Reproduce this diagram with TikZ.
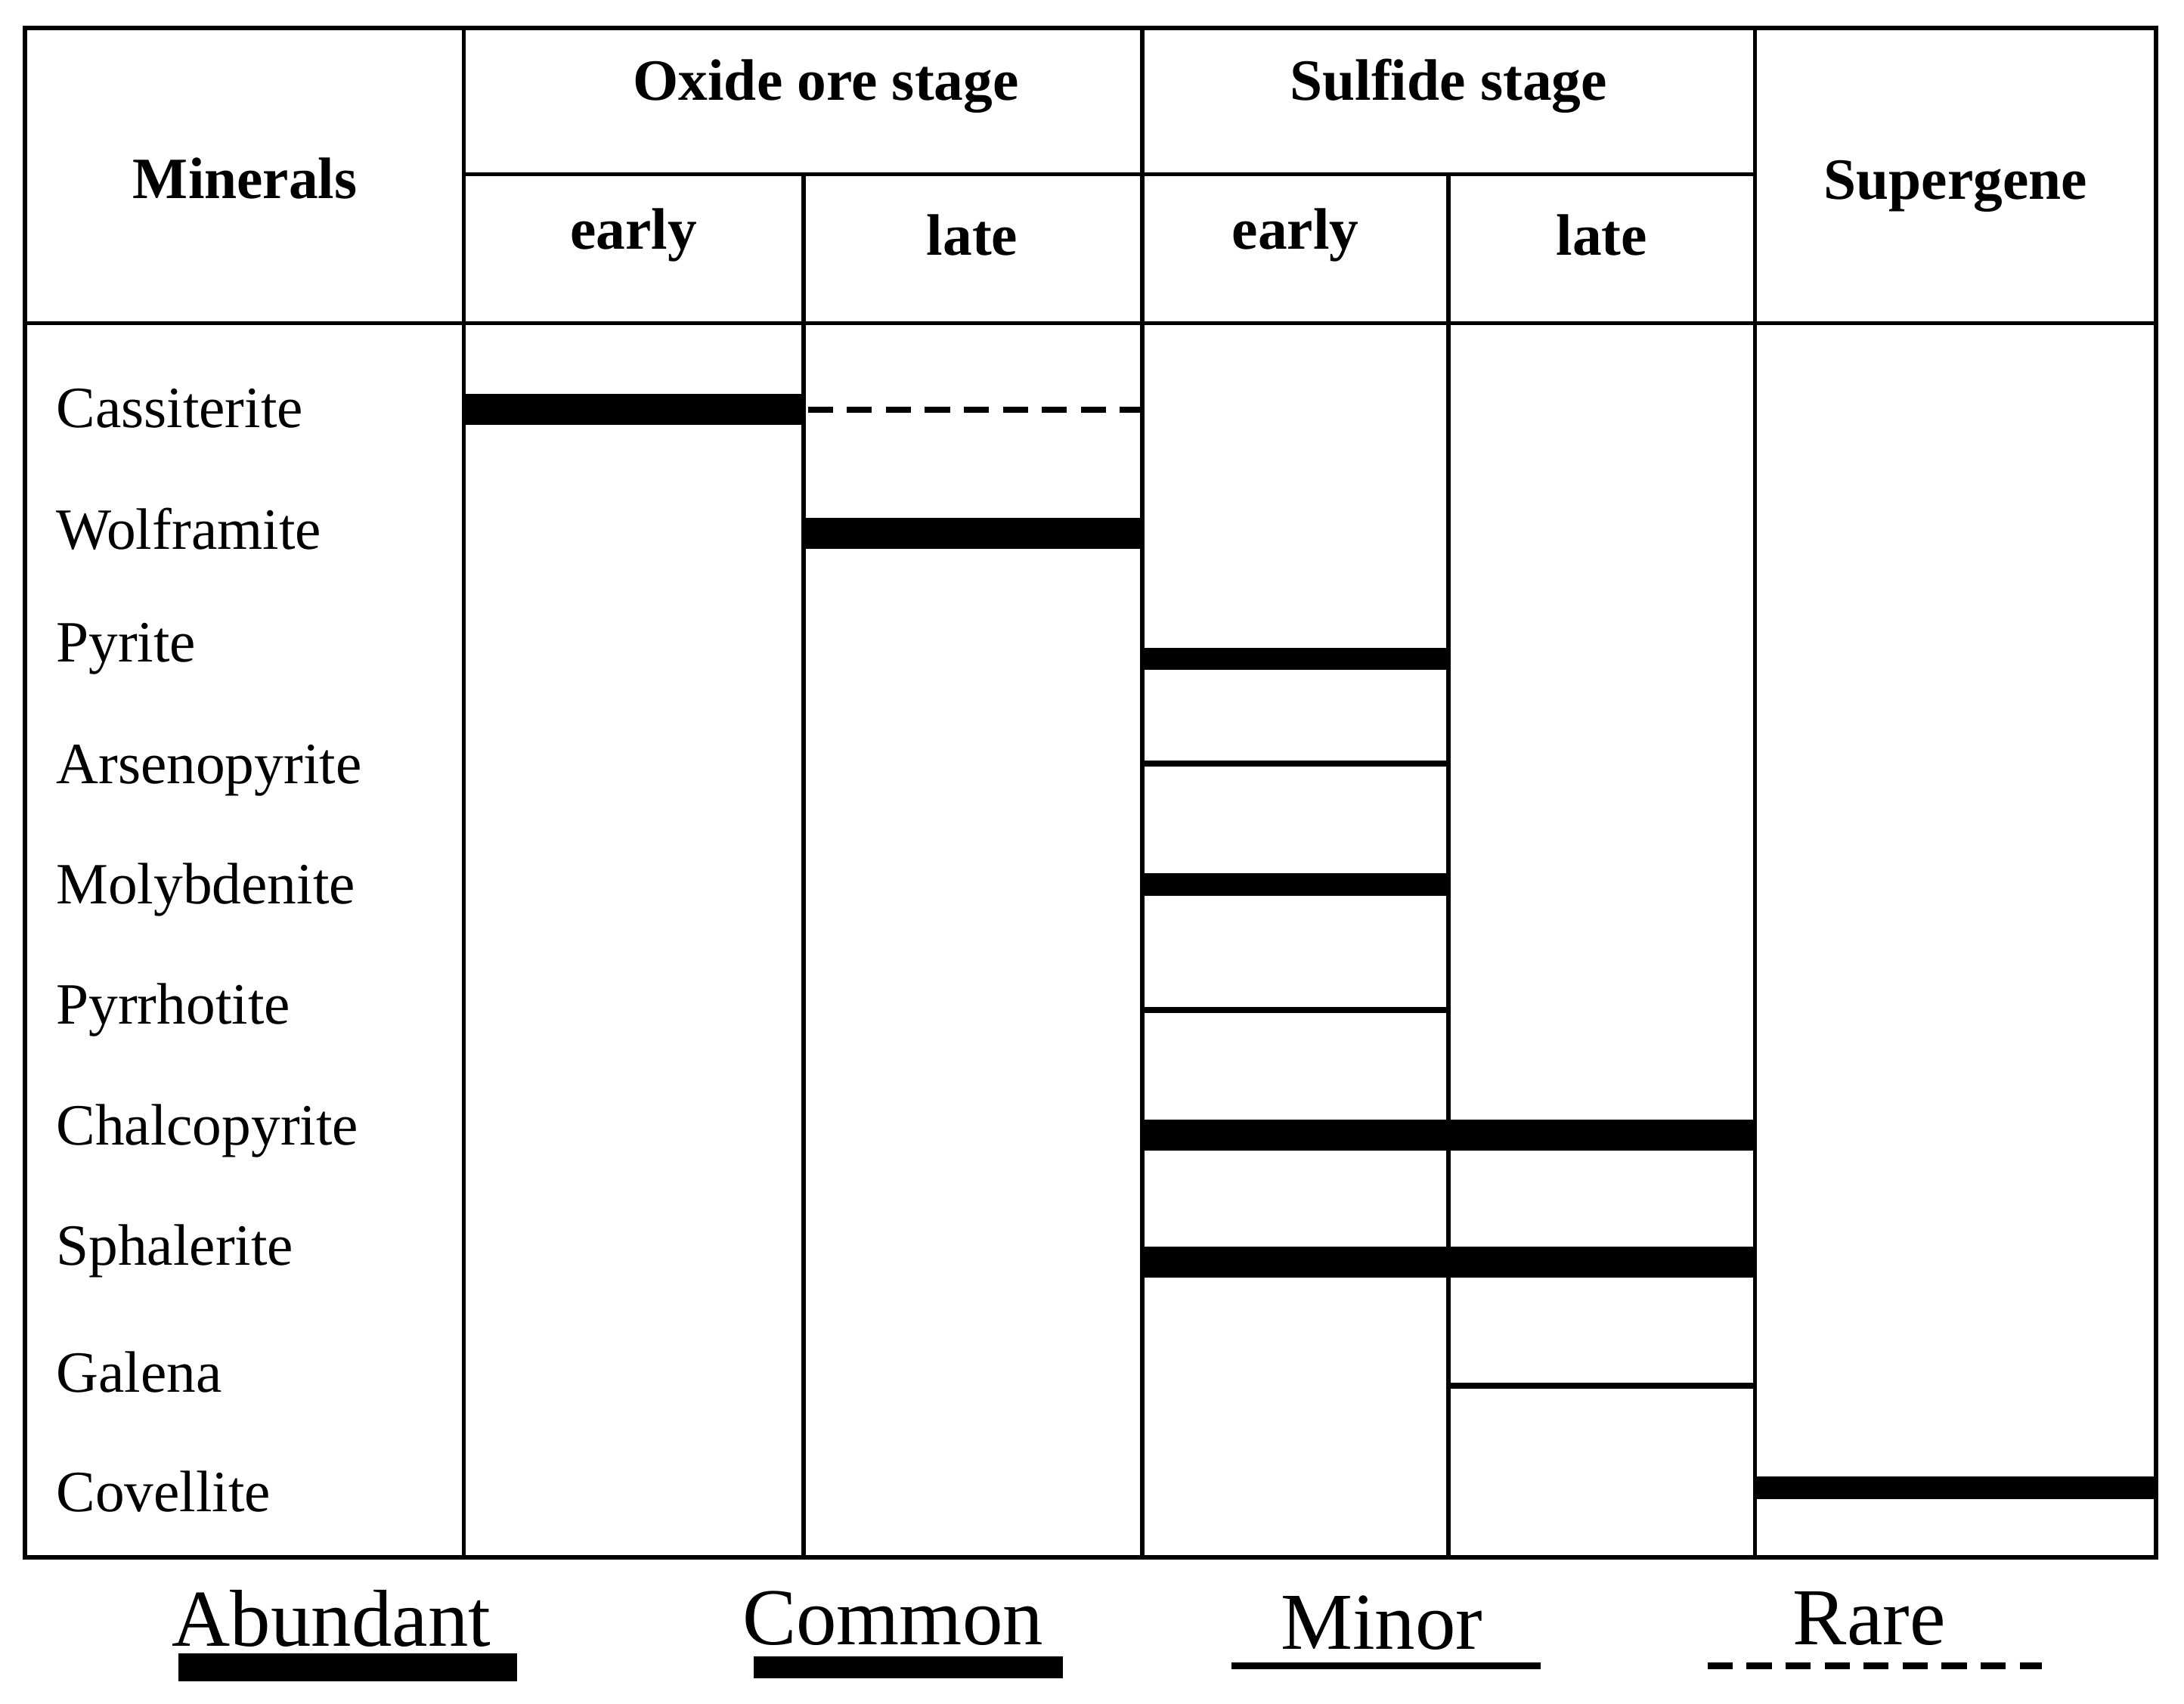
\documentclass[tikz,border=0pt]{standalone}
\usepackage{fontspec}
\setmainfont{Liberation Serif}
\begin{document}
\begin{tikzpicture}[x=0.5pt,y=-0.5pt,
  grid/.style={line width=1.5pt},
  abund/.style={line width=11pt},
  comm/.style={line width=8pt},
  minr/.style={line width=2.2pt},
  rare/.style={line width=2.2pt,dash pattern=on 9pt off 5pt},
  lab/.style={anchor=west,font=\fontsize{21}{24}\selectfont,inner sep=0},
  hd/.style={font=\bfseries\fontsize{21}{24}\selectfont,inner sep=0},
  leg/.style={font=\fontsize{29}{32}\selectfont,inner sep=0}]
\useasboundingbox (0,0) rectangle (1568,1223);
% grid
\draw[grid] (18,20) rectangle (1548,1118);
\draw[grid] (18,232) -- (1548,232);
\draw[grid] (333,125) -- (1260,125);
\foreach \x in {333,820,1260} \draw[grid] (\x,20) -- (\x,1118);
\foreach \x in {577,1040} \draw[grid] (\x,125) -- (\x,1118);
% headers
\node[hd] (hmin) at (176,128) {Minerals};
\node[hd] (hox) at (593,62) {Oxide ore stage};
\node[hd] (hsu) at (1040,62) {Sulfide stage};
\node[hd] (hsg) at (1404,134) {Supergene};
\node[hd] (e1) at (455,169) {early};
\node[hd] (l1) at (698,169) {late};
\node[hd] (e2) at (930,169) {early};
\node[hd] (l2) at (1150,169) {late};
% labels
\node[lab] (m1) at (40,293) {Cassiterite};
\node[lab] (m2) at (40,380) {Wolframite};
\node[lab] (m3) at (40,466) {Pyrite};
\node[lab] (m4) at (40,553) {Arsenopyrite};
\node[lab] (m5) at (40,639) {Molybdenite};
\node[lab] (m6) at (40,725) {Pyrrhotite};
\node[lab] (m7) at (40,812) {Chalcopyrite};
\node[lab] (m8) at (40,898) {Sphalerite};
\node[lab] (m9) at (40,985) {Galena};
\node[lab] (m10) at (40,1071) {Covellite};
% bars
\draw[abund] (333,294) -- (577,294);
\draw[rare] (580,294) -- (820,294);
\draw[abund] (577,383) -- (820,383);
\draw[comm] (820,473) -- (1040,473);
\draw[minr] (820,548) -- (1040,548);
\draw[comm] (820,635) -- (1040,635);
\draw[minr] (820,725) -- (1040,725);
\draw[abund] (820,815) -- (1260,815);
\draw[abund] (820,906) -- (1260,906);
\draw[minr] (1040,995) -- (1260,995);
\draw[comm] (1260,1068) -- (1548,1068);
% legend
\node[leg] (la) at (238,1162) {Abundant};
\node[leg] (lc) at (641,1162) {Common};
\node[leg] (lm) at (992,1165) {Minor};
\node[leg] (lr) at (1342,1162) {Rare};
\draw[line width=10pt] (128,1197) -- (371,1197);
\draw[comm] (541,1197) -- (763,1197);
\draw[line width=2.6pt] (884,1196) -- (1106,1196);
\draw[line width=2.6pt,dash pattern=on 9pt off 5pt] (1226,1196) -- (1466,1196);
\end{tikzpicture}
\end{document}
